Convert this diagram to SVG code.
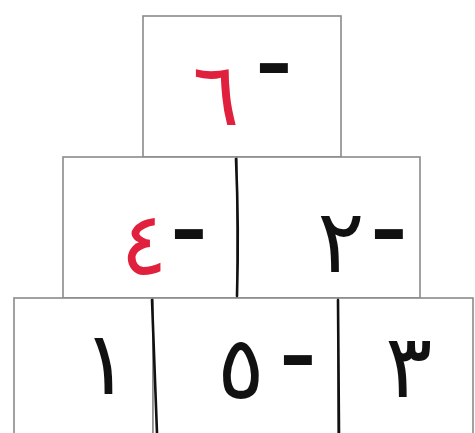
<svg xmlns="http://www.w3.org/2000/svg" width="475" height="433" viewBox="0 0 475 433">
<style>
.cell{fill:#fff;stroke:#8a8a8a;stroke-width:1.6}
.div{fill:none;stroke:#111;stroke-width:2.6;stroke-linecap:round}
.d{font-family:"DejaVu Sans",sans-serif;font-size:88px;text-anchor:middle;fill:#111}
.red{fill:#e0203c}
.m{font-family:"DejaVu Sans",sans-serif;font-weight:bold;font-size:70px;text-anchor:middle;fill:#111}
</style>
<rect width="475" height="433" fill="#fff"/>
<g id="cell-top">
<rect class="cell" x="143" y="16" width="198" height="141"/>
<text class="d red" x="216" y="125">٦</text>
<text class="m" transform="translate(274,88) scale(1.3,1)">-</text>
</g>
<g id="cell-mid-left">
<rect class="cell" x="63" y="157" width="174" height="141"/>
<text class="d red" x="144" y="274">٤</text>
<text class="m" transform="translate(189,254) scale(1.3,1)">-</text>
</g>
<g id="cell-mid-right">
<rect class="cell" x="237" y="157" width="183" height="141"/>
<text class="d" x="341" y="272">٢</text>
<text class="m" transform="translate(389,254) scale(1.3,1)">-</text>
</g>
<g id="cell-bot-left">
<rect class="cell" x="14" y="298" width="139" height="140"/>
<text class="d" x="106" y="394">١</text>
</g>
<g id="cell-bot-mid">
<rect class="cell" x="153" y="298" width="185" height="140"/>
<text class="d" x="241" y="398">٥</text>
<text class="m" transform="translate(298,380) scale(1.3,1)">-</text>
</g>
<g id="cell-bot-right">
<rect class="cell" x="338" y="298" width="135" height="140"/>
<text class="d" x="409" y="397">٣</text>
</g>
<g id="connectors">
<path class="div" d="M236 159 Q239 228 237 296"/>
<path class="div" d="M152 300 L157 433"/>
<path class="div" d="M338 300 L339 433"/>
</g>
</svg>
